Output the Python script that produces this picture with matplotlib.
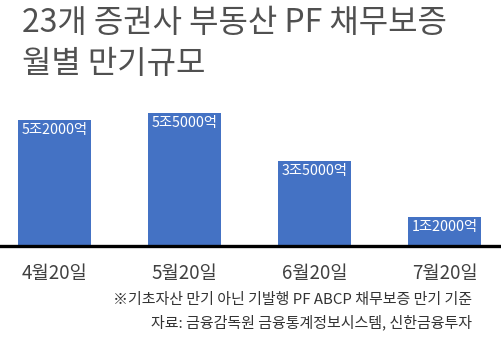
import matplotlib.pyplot as plt

plt.rcParams['font.family'] = ['Noto Sans CJK KR', 'DejaVu Sans']

# data
months = ["4월20일", "5월20일", "6월20일", "7월20일"]
values = [5.2, 5.5, 3.5, 1.2]   # 조원
labels = ["5조2000억", "5조5000억", "3조5000억", "1조2000억"]

title = "23개 증권사 부동산 PF 채무보증\n월별 만기규모"
note1 = "※기초자산 만기 아닌 기발행 PF ABCP 채무보증 만기 기준"
note2 = "자료: 금융감독원 금융통계정보시스템, 신한금융투자"

fig = plt.figure(figsize=(5.02, 3.47), dpi=100)
ax = fig.add_axes([0, 0.291, 1, 0.4185])

x = range(len(months))
bars = ax.bar(x, values, width=0.56, color="#4472C4")
for b, lab in zip(bars, labels):
    ax.text(b.get_x() + b.get_width() / 2, b.get_height() - 0.12, lab,
            ha="center", va="top", color="white", fontsize=10.3)

ax.set_xlim(-0.419, 3.442)
ax.set_ylim(0, 6)
for s in ["top", "left", "right"]:
    ax.spines[s].set_visible(False)
ax.spines["bottom"].set_linewidth(2.4)
ax.spines["bottom"].set_color("black")
ax.set_yticks([])
ax.set_xticks(list(x))
ax.set_xticklabels(months, fontsize=13.5, color="#404040")
ax.tick_params(axis="x", length=0, pad=12)

fig.text(0.044, 0.98, title, ha="left", va="top", fontsize=23,
         color="#505050", linespacing=1.35)
fig.text(0.94, 0.135, note1, ha="right", va="center", fontsize=10.8, color="#333333")
fig.text(0.94, 0.07, note2, ha="right", va="center", fontsize=10.8, color="#333333")

fig.savefig("out.png", dpi=100)
